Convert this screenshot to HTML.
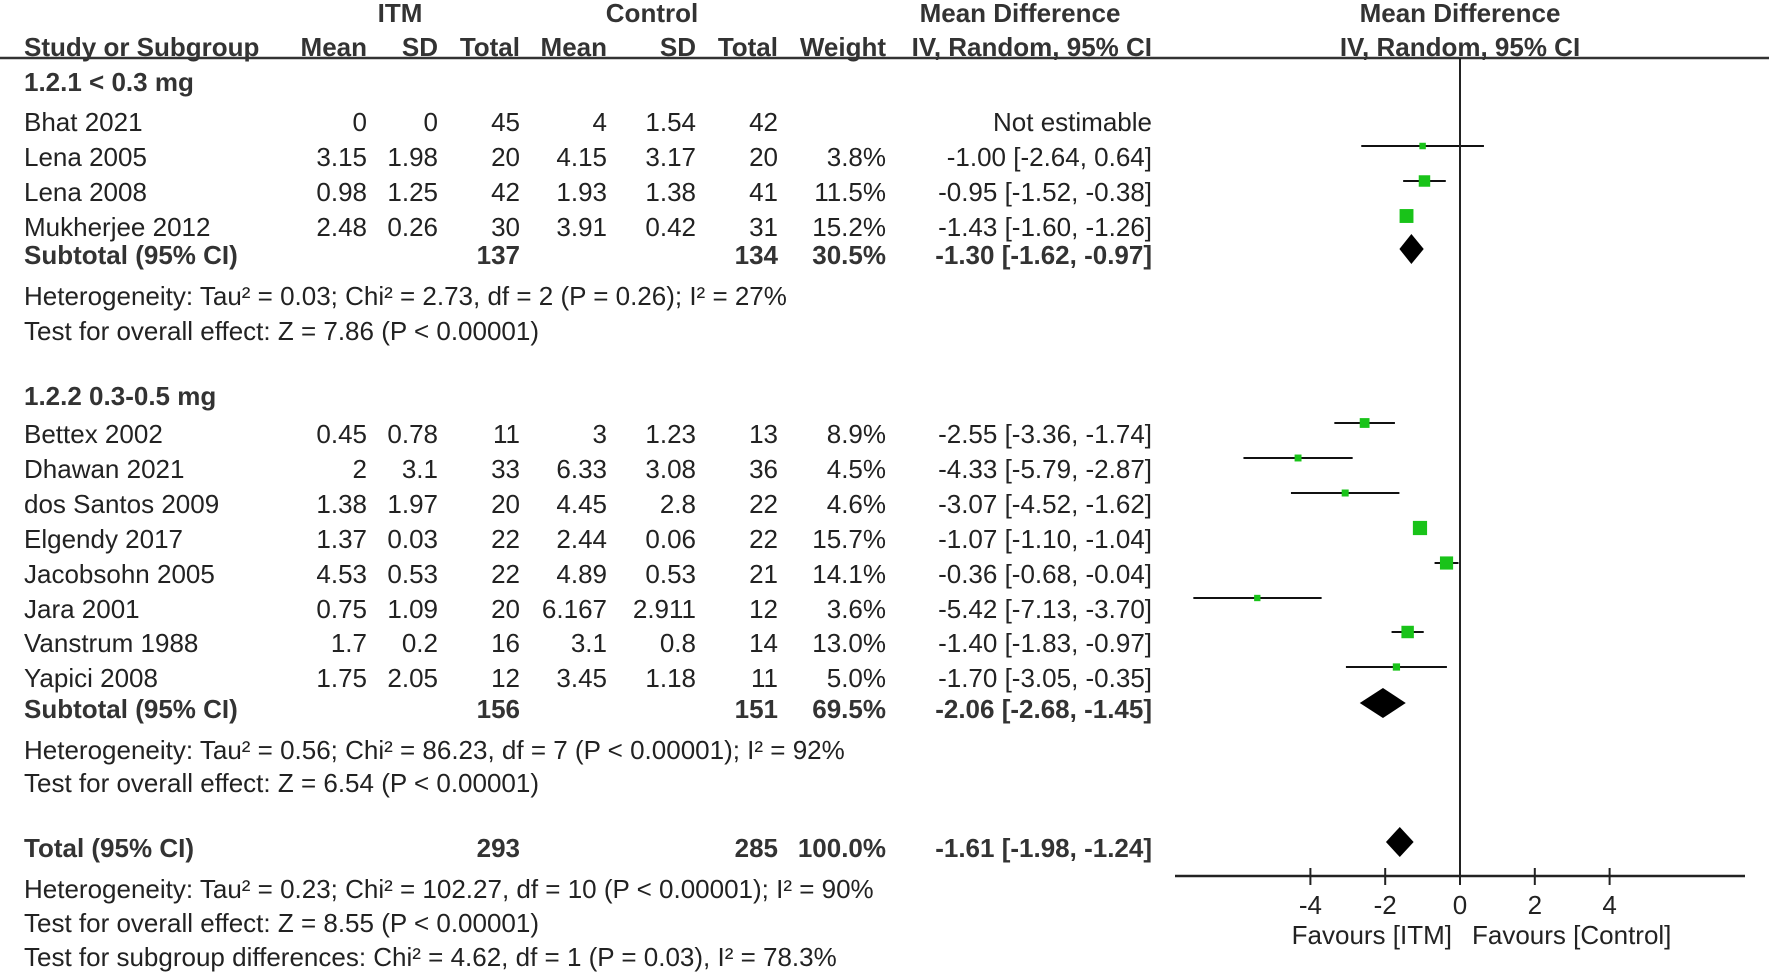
<!DOCTYPE html>
<html><head><meta charset="utf-8"><style>
html,body{margin:0;padding:0;background:#fff;}
svg{display:block;}
text{font-family:"Liberation Sans",Arial,sans-serif;font-size:26px;fill:#222;dominant-baseline:central;}
.b{font-weight:bold;fill:#333;}
</style></head><body>
<svg id="chart" width="1772" height="974" viewBox="0 0 1772 974">
<g id="static">
<text class="b" x="400" y="13" text-anchor="middle">ITM</text>
<text class="b" x="652" y="13" text-anchor="middle">Control</text>
<text class="b" x="1020" y="13" text-anchor="middle">Mean Difference</text>
<text class="b" x="1460" y="13" text-anchor="middle">Mean Difference</text>
<text class="b" x="24" y="47">Study or Subgroup</text>
<text class="b" x="367" y="47" text-anchor="end">Mean</text>
<text class="b" x="438" y="47" text-anchor="end">SD</text>
<text class="b" x="520" y="47" text-anchor="end">Total</text>
<text class="b" x="607" y="47" text-anchor="end">Mean</text>
<text class="b" x="696" y="47" text-anchor="end">SD</text>
<text class="b" x="778" y="47" text-anchor="end">Total</text>
<text class="b" x="886" y="47" text-anchor="end">Weight</text>
<text class="b" x="1152" y="47" text-anchor="end">IV, Random, 95% CI</text>
<text class="b" x="1460" y="47" text-anchor="middle">IV, Random, 95% CI</text>
<line x1="0" y1="58" x2="1769" y2="58" stroke="#333" stroke-width="2.5"/>
<text class="b" x="24" y="82">1.2.1 &lt; 0.3 mg</text>
<text x="24" y="296">Heterogeneity: Tau² = 0.03; Chi² = 2.73, df = 2 (P = 0.26); I² = 27%</text>
<text x="24" y="331">Test for overall effect: Z = 7.86 (P &lt; 0.00001)</text>
<text class="b" x="24" y="396">1.2.2 0.3-0.5 mg</text>
<text x="24" y="750">Heterogeneity: Tau² = 0.56; Chi² = 86.23, df = 7 (P &lt; 0.00001); I² = 92%</text>
<text x="24" y="783">Test for overall effect: Z = 6.54 (P &lt; 0.00001)</text>
<text x="24" y="889">Heterogeneity: Tau² = 0.23; Chi² = 102.27, df = 10 (P &lt; 0.00001); I² = 90%</text>
<text x="24" y="923">Test for overall effect: Z = 8.55 (P &lt; 0.00001)</text>
<text x="24" y="957">Test for subgroup differences: Chi² = 4.62, df = 1 (P = 0.03), I² = 78.3%</text>
<text x="1452" y="935" text-anchor="end">Favours [ITM]</text>
<text x="1472" y="935">Favours [Control]</text>
</g>
<g id="rows"></g>
<g id="plot"></g>
</svg>
<script>
const studyNames = ["Bhat 2021","Lena 2005","Lena 2008","Mukherjee 2012","Bettex 2002","Dhawan 2021","dos Santos 2009","Elgendy 2017","Jacobsohn 2005","Jara 2001","Vanstrum 1988","Yapici 2008"];
const studyRowY = [122,157,192,227,434,469,504,539,574,609,643,678];
const itmMean = ["0","3.15","0.98","2.48","0.45","2","1.38","1.37","4.53","0.75","1.7","1.75"];
const itmSD = ["0","1.98","1.25","0.26","0.78","3.1","1.97","0.03","0.53","1.09","0.2","2.05"];
const itmTotal = ["45","20","42","30","11","33","20","22","22","20","16","12"];
const ctlMean = ["4","4.15","1.93","3.91","3","6.33","4.45","2.44","4.89","6.167","3.1","3.45"];
const ctlSD = ["1.54","3.17","1.38","0.42","1.23","3.08","2.8","0.06","0.53","2.911","0.8","1.18"];
const ctlTotal = ["42","20","41","31","13","36","22","22","21","12","14","11"];
const weights = [null,3.8,11.5,15.2,8.9,4.5,4.6,15.7,14.1,3.6,13.0,5.0];
const md = [null,-1.00,-0.95,-1.43,-2.55,-4.33,-3.07,-1.07,-0.36,-5.42,-1.40,-1.70];
const lo = [null,-2.64,-1.52,-1.60,-3.36,-5.79,-4.52,-1.10,-0.68,-7.13,-1.83,-3.05];
const hi = [null,0.64,-0.38,-1.26,-1.74,-2.87,-1.62,-1.04,-0.04,-3.70,-0.97,-0.35];
const pooledNames = ["Subtotal (95% CI)","Subtotal (95% CI)","Total (95% CI)"];
const pooledRowY = [255,709,848];
const pooledItm = ["137","156","293"];
const pooledCtl = ["134","151","285"];
const pooledWeight = ["30.5%","69.5%","100.0%"];
const pooledMd = [-1.30,-2.06,-1.61];
const pooledLo = [-1.62,-2.68,-1.98];
const pooledHi = [-0.97,-1.45,-1.24];
const tickValues = [-4,-2,0,2,4];

const NS="http://www.w3.org/2000/svg";
const X0=1460, PX=37.4, AXIS_Y=876;
const xs = v => X0 + v*PX;
function mk(tag, attrs, parent, txt){const e=document.createElementNS(NS,tag);for(const k in attrs)e.setAttribute(k,attrs[k]);if(txt!==undefined)e.textContent=txt;parent.appendChild(e);return e;}
const rows=document.getElementById('rows'), plot=document.getElementById('plot');
const fmt=v=>v.toFixed(2);
const colX=[367,438,520,607,696,778,886,1152];

studyNames.forEach((n,i)=>{
  const y=studyRowY[i];
  let t=mk('text',{x:24,y:y},rows,n);
  
  
  const vals=[itmMean[i],itmSD[i],itmTotal[i],ctlMean[i],ctlSD[i],ctlTotal[i],weights[i]===null?'':weights[i].toFixed(1)+'%',md[i]===null?'Not estimable':fmt(md[i])+' ['+fmt(lo[i])+', '+fmt(hi[i])+']'];
  vals.forEach((v,j)=>{
    const c=mk('text',{x:colX[j],y:y,'text-anchor':'end'},rows,v);
    
    
  });
  if(md[i]!==null){
    const my=y-11;
    const l=mk('line',{x1:xs(lo[i]),x2:xs(hi[i]),y1:my,y2:my,stroke:'#111','stroke-width':2},plot);
    
    
    const s=4+0.65*weights[i];
    const r=mk('rect',{x:xs(md[i])-s/2,y:my-s/2,width:s,height:s,fill:'#19c319'},plot);
    
    
  }
});

pooledNames.forEach((n,i)=>{
  const y=pooledRowY[i];
  let t=mk('text',{x:24,y:y,class:'b'},rows,n);
  
  
  const vals=[[520,pooledItm[i]],[778,pooledCtl[i]],[886,pooledWeight[i]],[1152,fmt(pooledMd[i])+' ['+fmt(pooledLo[i])+', '+fmt(pooledHi[i])+']']];
  vals.forEach(([x,v])=>{
    const c=mk('text',{x:x,y:y,'text-anchor':'end',class:'b'},rows,v);
    
    
  });
  const dy=y-6;
  const d=mk('polygon',{points:`${xs(pooledLo[i])},${dy} ${xs(pooledMd[i])},${dy-15} ${xs(pooledHi[i])},${dy} ${xs(pooledMd[i])},${dy+15}`,fill:'#000'},plot);
  
  
});

let zl=mk('line',{x1:xs(0),x2:xs(0),y1:58,y2:AXIS_Y,stroke:'#222','stroke-width':2},plot);


let ax=mk('line',{x1:1175,x2:1745,y1:AXIS_Y,y2:AXIS_Y,stroke:'#222','stroke-width':2.5},plot);


tickValues.forEach(v=>{
  const tk=mk('line',{x1:xs(v),x2:xs(v),y1:AXIS_Y-8,y2:AXIS_Y+9,stroke:'#222','stroke-width':2},plot);
  
  
  const tl=mk('text',{x:xs(v),y:905,'text-anchor':'middle'},plot,String(v));
  
  
});
</script>
</body></html>
